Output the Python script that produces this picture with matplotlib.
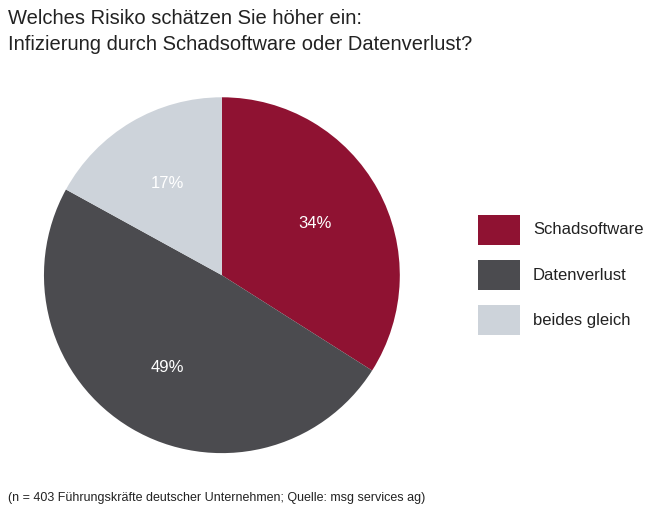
import matplotlib
matplotlib.use("Agg")
import matplotlib.pyplot as plt
from matplotlib.patches import Rectangle

categories = ["Schadsoftware", "Datenverlust", "beides gleich"]
values = [34, 49, 17]
colors = ["#8f1232", "#4b4b4f", "#cdd3da"]

plt.rcParams["font.family"] = "Liberation Sans"
fig = plt.figure(figsize=(6.45, 5.12), dpi=100)
ax = fig.add_axes([0.068, 0.115, 0.552, 0.695])
wedges, texts = ax.pie(values, colors=colors, startangle=90, counterclock=False,
                       wedgeprops=dict(linewidth=0))
import numpy as np
ang0 = 90
for w, v in zip(wedges, values):
    mid = np.deg2rad((w.theta1 + w.theta2) / 2)
    r = 0.6
    ax.text(r * np.cos(mid), r * np.sin(mid), f"{v}%", ha="center", va="center",
            color="white", fontsize=12)
ax.set_xlim(-1, 1); ax.set_ylim(-1, 1); ax.set_aspect("equal")

for i, (c, col) in enumerate(zip(categories, colors)):
    y = 1 - (245 + i * 45) / 512
    fig.patches.append(Rectangle((478 / 645, y), 42 / 645, 30 / 512, transform=fig.transFigure,
                                 facecolor=col, edgecolor="none"))
    fig.text(533 / 645, y + 15 / 512, c, fontsize=12, va="center", ha="left", color="#222222")

fig.text(8 / 645, 1 - 18 / 512, "Welches Risiko schätzen Sie höher ein:", fontsize=14.5,
         va="center", color="#222222")
fig.text(8 / 645, 1 - 45 / 512, "Infizierung durch Schadsoftware oder Datenverlust?", fontsize=14.5,
         va="center", color="#222222")
fig.text(8 / 645, 1 - 498 / 512,
         "(n = 403 Führungskräfte deutscher Unternehmen; Quelle: msg services ag)",
         fontsize=9, va="center", color="#222222")
fig.savefig("out.png", dpi=100)
